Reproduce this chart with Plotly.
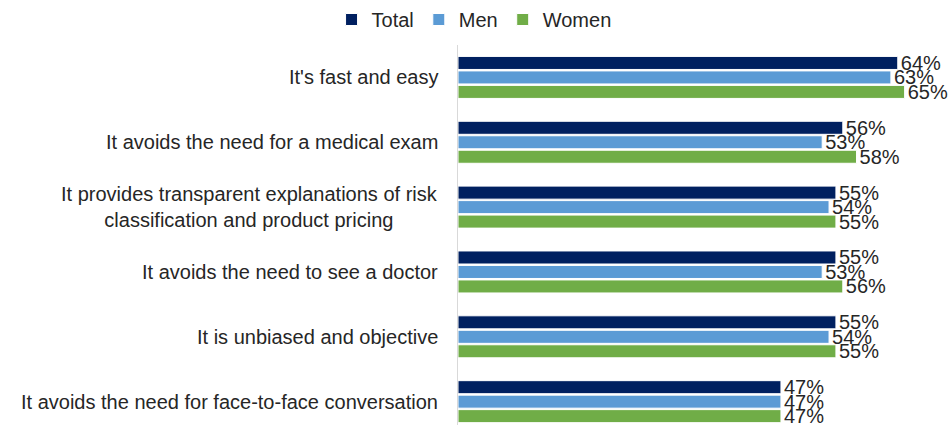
import plotly.graph_objects as go

categories = [
    "It's fast and easy",
    "It avoids the need for a medical exam",
    "It provides transparent explanations of risk<br>classification and product pricing",
    "It avoids the need to see a doctor",
    "It is unbiased and objective",
    "It avoids the need for face-to-face conversation",
]
total = [64, 56, 55, 55, 55, 47]
men = [63, 53, 54, 53, 54, 47]
women = [65, 58, 55, 56, 55, 47]

series = [
    ("Total", total, "#002060"),
    ("Men", men, "#5B9BD5"),
    ("Women", women, "#70AD47"),
]

FONT = "Liberation Sans, Arial, sans-serif"
TXT = "#262626"

fig = go.Figure()
for name, vals, color in series:
    fig.add_trace(go.Bar(
        y=categories, x=vals, name=name, orientation="h",
        marker=dict(color=color, line=dict(color="white", width=1)),
        text=[f"{v}%" for v in vals], textposition="outside",
        textfont=dict(size=20, color=TXT, family=FONT),
        constraintext="none", cliponaxis=False,
    ))

for c in categories:
    fig.add_annotation(
        x=0, xref="paper", y=c, yref="y", text=c, showarrow=False,
        xanchor="right", xshift=-18, align="center",
        font=dict(size=20, color=TXT, family=FONT),
    )

fig.update_layout(
    width=950, height=425,
    margin=dict(l=458, r=11, t=45, b=0),
    barmode="group", bargap=0.33, bargroupgap=0.1,
    plot_bgcolor="white", paper_bgcolor="white",
    font=dict(family=FONT, size=20, color=TXT),
    showlegend=True,
    legend=dict(orientation="h", xref="container", x=0.499, xanchor="center",
                yref="container", y=1.0, yanchor="top",
                font=dict(size=20, color=TXT), itemwidth=30,
                tracegroupgap=0),
    xaxis=dict(range=[0, 70], showgrid=False, showticklabels=False, zeroline=False,
               showline=False, fixedrange=True),
    yaxis=dict(type="category", range=[5.36, -0.5], showticklabels=False,
               showgrid=False, showline=True, linecolor="#d9d9d9", linewidth=1,
               ticks="", zeroline=False),
)

fig.write_html("out.html", config={"displayModeBar": False},
               post_script="document.body.style.margin='0';")
